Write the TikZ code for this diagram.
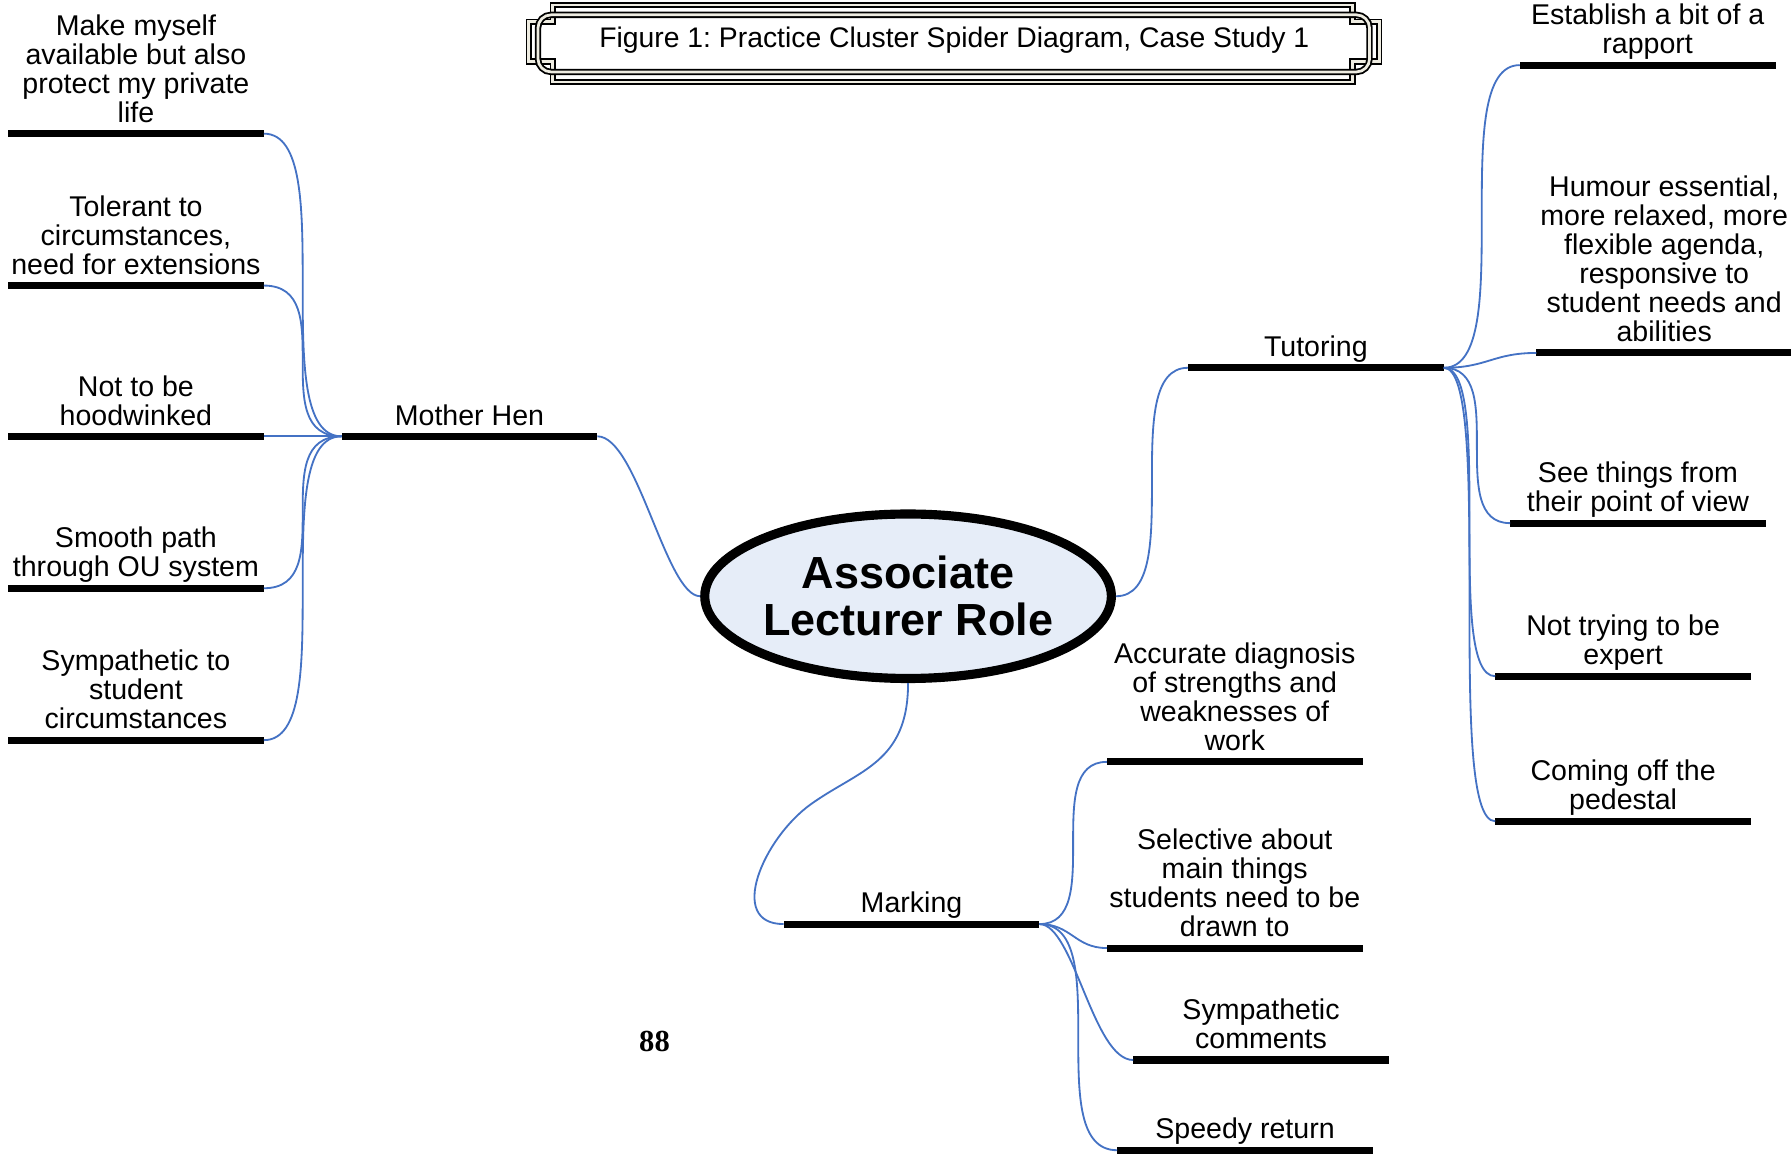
\documentclass[tikz,border=0pt]{standalone}
\usepackage{fontspec}
\setmainfont{Liberation Sans}
\newfontfamily\pagenumfont{Liberation Serif}
\usetikzlibrary{shapes.geometric}
\definecolor{connblue}{RGB}{68,114,196}
\definecolor{ellfill}{RGB}{230,237,248}
\definecolor{framecream}{RGB}{238,236,225}
\frenchspacing
\begin{document}
\begin{tikzpicture}[x=0.5pt,y=-0.5pt,
  bar/.style={rectangle, fill=black, inner sep=0pt, outer sep=0pt, minimum width=112pt, minimum height=3.1pt},
  leaf/.style={align=center, inner sep=0pt, anchor=south, font=\fontsize{12.5pt}{12.7pt}\selectfont, execute at end node={\rule[-3pt]{0pt}{0pt}}},
  conn/.style={draw=connblue, line width=0.8pt},
  frame/.style={draw=black, line width=0.8pt, double=framecream, double distance=1.2pt},
  titletext/.style={font=\fontsize{12.4pt}{13pt}\selectfont, inner sep=0pt},
  coretext/.style={font=\fontsize{19.7pt}{20.5pt}\selectfont\bfseries, align=center, inner sep=0pt}]
\useasboundingbox (0,0) rectangle (1568,1012);

% title frame
\draw[frame] (484,4.4) -- (1184,4.4) -- (1184,19) -- (1207.5,19) -- (1207.5,54) -- (1184,54) -- (1184,71.7) -- (484,71.7) -- (484,54) -- (463,54) -- (463,19) -- (484,19) -- cycle;
\draw[frame, rounded corners=5.75pt] (471,13) rectangle (1199,63);
\node[titletext] (title) at (835.5,35) {Figure 1: Practice Cluster Spider Diagram, Case Study 1};

% central ellipse
\node[ellipse, draw=black, line width=4pt, fill=ellfill, minimum width=178pt, minimum height=72pt, inner sep=0pt] (core) at (795,522) {};
\node[coretext] (coretxt) at (795,522) {Associate\\Lecturer Role};

% main branches
\node[bar] (mh) at (411,382) {};
\node[leaf] (mhtext) at ([yshift=0.2pt]mh.north) {Mother Hen};
\node[bar] (tut) at (1152,322) {};
\node[leaf] (tuttext) at ([yshift=0.2pt]tut.north) {Tutoring};
\node[bar] (mk) at (798,809) {};
\node[leaf] (mktext) at ([yshift=0.2pt]mk.north) {Marking};

% Mother Hen leaves
\node[bar] (b1) at (119,117) {};
\node[leaf] (tb1) at ([yshift=0.2pt]b1.north) {Make myself\\available but also\\protect my private\\life};
\node[bar] (b2) at (119,250) {};
\node[leaf] (tb2) at ([yshift=0.2pt]b2.north) {Tolerant to\\circumstances,\\need for extensions};
\node[bar] (b3) at (119,382) {};
\node[leaf] (tb3) at ([yshift=0.2pt]b3.north) {Not to be\\hoodwinked};
\node[bar] (b4) at (119,515) {};
\node[leaf] (tb4) at ([yshift=0.2pt]b4.north) {Smooth path\\through OU system};
\node[bar] (b5) at (119,648) {};
\node[leaf] (tb5) at ([yshift=0.2pt]b5.north) {Sympathetic to\\student\\circumstances};

% Tutoring leaves
\node[bar] (r1) at (1442.5,57) {};
\node[leaf] (tr1) at ([yshift=0.2pt]r1.north) {Establish a bit of a\\rapport};
\node[bar] (r2) at (1457,309) {};
\node[leaf] (tr2) at ([yshift=0.2pt]r2.north) {Humour essential,\\more relaxed, more\\flexible agenda,\\responsive to\\student needs and\\abilities};
\node[bar] (r3) at (1434,458) {};
\node[leaf] (tr3) at ([yshift=0.2pt]r3.north) {See things from\\their point of view};
\node[bar] (r4) at (1421,592) {};
\node[leaf] (tr4) at ([yshift=0.2pt]r4.north) {Not trying to be\\expert};
\node[bar] (r5) at (1421,719) {};
\node[leaf] (tr5) at ([yshift=0.2pt]r5.north) {Coming off the\\pedestal};

% Marking leaves
\node[bar] (m1) at (1081,667) {};
\node[leaf] (tm1) at ([yshift=0.2pt]m1.north) {Accurate diagnosis\\of strengths and\\weaknesses of\\work};
\node[bar] (m2) at (1081,830) {};
\node[leaf] (tm2) at ([yshift=0.2pt]m2.north) {Selective about\\main things\\students need to be\\drawn to};
\node[bar] (m3) at (1104,928) {};
\node[leaf] (tm3) at ([yshift=0.2pt]m3.north) {Sympathetic\\comments};
\node[bar] (m4) at (1090,1007) {};
\node[leaf] (tm4) at ([yshift=0.2pt]m4.north) {Speedy return};

% page number
\node[font=\pagenumfont\bfseries\fontsize{13.4pt}{14pt}\selectfont, inner sep=0pt] (pagenum) at (573,912) {88};

% connectors: centre to branches
\draw[conn] (core.west) .. controls +(-30,0) and +(35,0) .. (mh.east);
\draw[conn] (core.east) .. controls (tut.west |- core.east) and (core.east |- tut.west) .. (tut.west);
\coordinate (mkbend) at (710,704);
\draw[conn] (core.south) .. controls +(0,70) and +(42,-30) .. (mkbend) .. controls +(-42,30) and +(-50,0) .. (mk.west);

% Mother Hen connectors
\foreach \c in {b1,b2,b3,b4,b5}
  \draw[conn] (mh.west) .. controls (\c.east |- mh.west) and (mh.west |- \c.east) .. (\c.east);
% Tutoring connectors
\foreach \c in {r1,r3,r4,r5}
  \draw[conn] (tut.east) .. controls (\c.west |- tut.east) and (tut.east |- \c.west) .. (\c.west);
\draw[conn] (tut.east) .. controls +(38,0) and +(-38,0) .. (r2.west);
% Marking connectors
\foreach \c in {m1,m4}
  \draw[conn] (mk.east) .. controls (\c.west |- mk.east) and (mk.east |- \c.west) .. (\c.west);
\draw[conn] (mk.east) .. controls +(28,0) and +(-28,0) .. (m2.west);
\draw[conn] (mk.east) .. controls +(30,0) and +(-35,0) .. (m3.west);
\end{tikzpicture}
\end{document}
